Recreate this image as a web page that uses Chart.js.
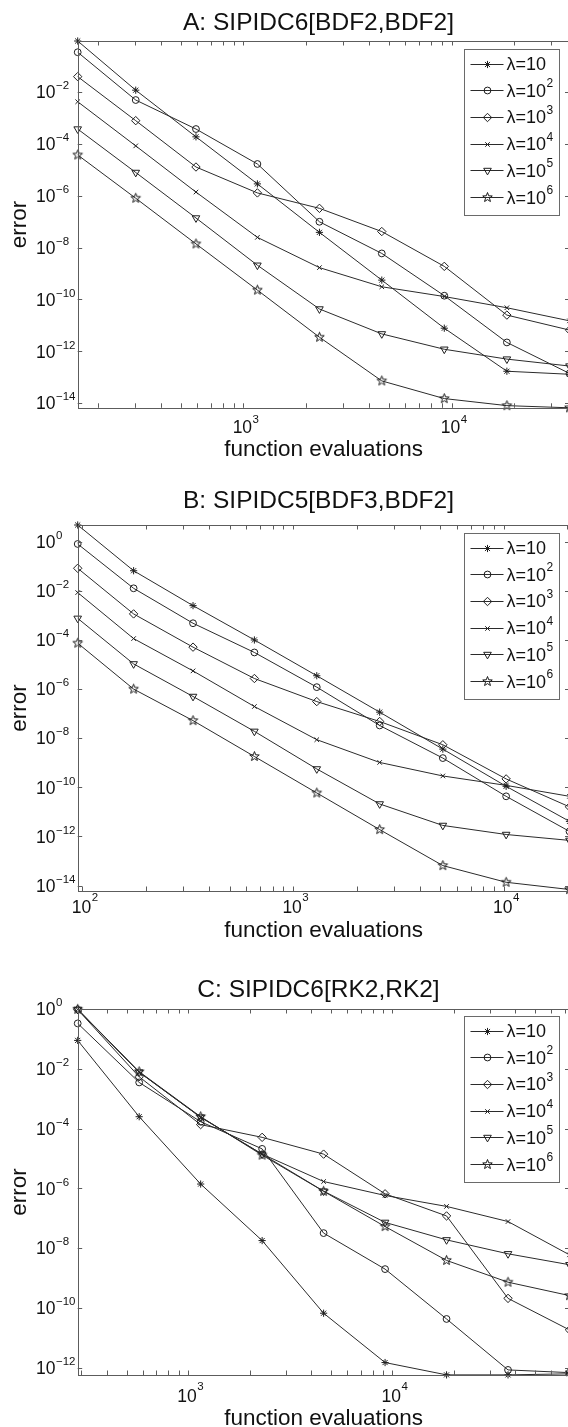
<!DOCTYPE html>
<html>
<head>
<meta charset="utf-8">
<title>SIPIDC error vs function evaluations</title>
<script src="https://cdn.jsdelivr.net/npm/chart.js@4.4.1/dist/chart.umd.min.js"></script>
<style>
html, body { margin: 0; padding: 0; background: #fff; overflow: hidden; }
body { width: 568px; height: 1427px; position: relative; }
.panel { position: absolute; left: 0; }
</style>
</head>
<body>
<div class="panel" style="top:0px"><canvas id="chartA" width="580" height="470"></canvas></div>
<div class="panel" style="top:470px"><canvas id="chartB" width="580" height="470"></canvas></div>
<div class="panel" style="top:940px"><canvas id="chartC" width="580" height="487"></canvas></div>

<script>
// legend names (^ marks the exponent)
var seriesNames = ['λ=10', 'λ=10^2', 'λ=10^3', 'λ=10^4', 'λ=10^5', 'λ=10^6'];

/* A: SIPIDC6[BDF2,BDF2] */
var evalsA = [160, 304, 592, 1168, 2320, 4624, 9232, 18448, 36880];
var errA1 = [0.95, 1.2e-2, 1.9e-4, 2.9e-6, 3.9e-8, 5.6e-10, 7.8e-12, 1.7e-13, 1.3e-13];
var errA2 = [0.35, 5e-3, 3.8e-4, 1.7e-5, 1e-7, 6e-9, 1.4e-10, 2.2e-12, 1.4e-13];
var errA3 = [4e-2, 8e-4, 1.3e-5, 1.3e-6, 3.3e-7, 4.2e-8, 1.9e-9, 2.5e-11, 6.6e-12];
var errA4 = [4.3e-3, 8.5e-5, 1.4e-6, 2.5e-8, 1.7e-9, 3.1e-10, 1.3e-10, 4.8e-11, 1.5e-11];
var errA5 = [3.8e-4, 8e-6, 1.4e-7, 2.1e-9, 4.3e-11, 4.7e-12, 1.2e-12, 5e-13, 2.7e-13];
var errA6 = [3.8e-5, 8.1e-7, 1.4e-8, 2.3e-10, 3.5e-12, 7.2e-14, 1.5e-14, 8e-15, 6.6e-15];

/* B: SIPIDC5[BDF3,BDF2] */
var evalsB = [95, 175, 335, 655, 1295, 2575, 5135, 10255, 20495];
var errB1 = [4.8, 6.6e-2, 2.5e-3, 1e-4, 3.5e-6, 1.15e-7, 3.6e-9, 1.1e-10, 4.1e-12];
var errB2 = [0.81, 1.27e-2, 4.8e-4, 3.1e-5, 1.2e-6, 3.3e-8, 1.55e-9, 4.3e-11, 1.6e-12];
var errB3 = [8.3e-2, 1.15e-3, 5.1e-5, 2.7e-6, 3.1e-7, 4.8e-8, 5.4e-9, 2.2e-10, 1.6e-11];
var errB4 = [8.5e-3, 1.14e-4, 5.5e-6, 1.95e-7, 8.7e-9, 1.03e-9, 2.9e-10, 1.2e-10, 4.3e-11];
var errB5 = [7.6e-4, 1.06e-5, 5e-7, 1.9e-8, 5.6e-10, 2.1e-11, 2.8e-12, 1.2e-12, 6.9e-13];
var errB6 = [7.4e-5, 1.0e-6, 5.2e-8, 1.8e-9, 5.9e-11, 1.9e-12, 6.5e-14, 1.36e-14, 6.9e-15];

/* C: SIPIDC6[RK2,RK2] */
var evalsC = [288, 576, 1152, 2304, 4608, 9216, 18432, 36864, 73728];
var errC1 = [8.9e-2, 2.5e-4, 1.4e-6, 1.8e-8, 6.7e-11, 1.5e-12, 5.8e-13, 5.8e-13, 6.3e-13];
var errC2 = [0.33, 3.5e-3, 1.7e-4, 2.1e-5, 3.2e-8, 2e-9, 4.3e-11, 8.5e-13, 6.9e-13];
var errC3 = [0.95, 5.4e-3, 1.36e-4, 5.1e-5, 1.4e-5, 6.6e-7, 1.2e-7, 2.1e-10, 1.85e-11];
var errC4 = [0.97, 7.7e-3, 2.4e-4, 1.4e-5, 1.7e-6, 5.8e-7, 2.5e-7, 7.8e-8, 6e-9];
var errC5 = [0.97, 7.7e-3, 2.4e-4, 1.4e-5, 8.1e-7, 7.3e-8, 1.9e-8, 6.5e-9, 2.8e-9];
var errC6 = [0.98, 8e-3, 2.5e-4, 1.3e-5, 8e-7, 5.3e-8, 3.9e-9, 7.3e-10, 2.6e-10];

var FONT = '"Liberation Sans", Arial, Helvetica, sans-serif';
var INK = '#111';
var AXIS = '#5c5c5c';

// five point star marker (not built into chart.js)
function pentagram() {
	var c = document.createElement('canvas');
	c.width = 13; c.height = 13;
	var g = c.getContext('2d');
	g.strokeStyle = '#1a1a1a';
	g.lineWidth = 1;
	g.beginPath();
	for (var i = 0; i < 10; i++) {
		var r = (i % 2 === 0) ? 5 : 2.1;
		var a = -Math.PI / 2 + i * Math.PI / 5;
		var px = 6.5 + r * Math.cos(a), py = 6.5 + r * Math.sin(a);
		if (i === 0) g.moveTo(px, py); else g.lineTo(px, py);
	}
	g.closePath();
	g.stroke();
	return c;
}

var markers = [
	{ style: 'star', radius: 3.6, rotation: 0 },
	{ style: 'circle', radius: 3.4, rotation: 0 },
	{ style: 'rectRot', radius: 4.2, rotation: 0 },
	{ style: 'crossRot', radius: 3.2, rotation: 0 },
	{ style: 'triangle', radius: 4.4, rotation: 180 },
	{ style: pentagram(), radius: 5, rotation: 0 }
];

// "10" with a raised exponent
function drawPower(ctx, x, y, base, exp, baseSize, supSize, supRise, centered) {
	ctx.font = baseSize + 'px ' + FONT;
	var bw = ctx.measureText(base).width;
	var x0 = centered ? x - bw / 2 : x;
	ctx.textAlign = 'left';
	ctx.textBaseline = 'alphabetic';
	ctx.fillText(base, x0, y);
	if (exp !== null && exp !== undefined && exp !== '') {
		ctx.font = supSize + 'px ' + FONT;
		ctx.fillText(String(exp).replace('-', '\u2212'), x0 + bw + 0.5, y - supRise);
	}
}

var figurePlugin = {
	id: 'figure',
	afterDraw: function(chart, args, o) {
		var ctx = chart.ctx;
		var a = chart.chartArea;
		var xs = chart.scales.x, ys = chart.scales.y;
		var tl = 4.5;
		ctx.save();

		// axes box
		ctx.strokeStyle = AXIS;
		ctx.lineWidth = 1;
		ctx.strokeRect(Math.round(a.left) + 0.5, Math.round(a.top) + 0.5,
			Math.round(a.right) - Math.round(a.left), Math.round(a.bottom) - Math.round(a.top));

		// x ticks, major + minor, pointing inwards
		ctx.beginPath();
		var d0 = Math.floor(Math.log10(xs.min)), d1 = Math.ceil(Math.log10(xs.max));
		var xMajors = [];
		for (var d = d0; d <= d1; d++) {
			for (var k = 1; k <= 9; k++) {
				var v = k * Math.pow(10, d);
				if (v < xs.min * 0.999 || v > xs.max * 1.001) continue;
				var px = Math.round(xs.getPixelForValue(v)) + 0.5;
				ctx.moveTo(px, a.bottom); ctx.lineTo(px, a.bottom - tl);
				ctx.moveTo(px, a.top); ctx.lineTo(px, a.top + tl);
				if (k === 1) xMajors.push({ px: xs.getPixelForValue(v), e: d });
			}
		}
		// y ticks every second decade
		var e0 = Math.ceil(Math.log10(ys.min) - 1e-9), e1 = Math.floor(Math.log10(ys.max) + 1e-9);
		var yMajors = [];
		for (var e = e0; e <= e1; e++) {
			if (e % 2 !== 0) continue;
			var py = Math.round(ys.getPixelForValue(Math.pow(10, e))) + 0.5;
			ctx.moveTo(a.left, py); ctx.lineTo(a.left + tl, py);
			ctx.moveTo(a.right, py); ctx.lineTo(a.right - tl, py);
			yMajors.push({ py: ys.getPixelForValue(Math.pow(10, e)), e: e });
		}
		ctx.stroke();

		// tick labels
		ctx.fillStyle = INK;
		yMajors.forEach(function(t) {
			drawPower(ctx, 36, t.py + 6.2, '10', t.e, 17.5, 11.5, 9, false);
		});
		xMajors.forEach(function(t) {
			drawPower(ctx, t.px - 1, a.bottom + o.xLabelDrop, '10', t.e, 17.5, 11.5, o.xSupRise, true);
		});

		// title and axis labels
		ctx.textAlign = 'center';
		ctx.textBaseline = 'alphabetic';
		ctx.font = '24.5px ' + FONT;
		ctx.fillText(o.title, 318.5, o.titleY);
		ctx.font = '22.5px ' + FONT;
		ctx.fillText('function evaluations', (a.left + a.right) / 2, a.bottom + o.xTitleDrop);
		ctx.save();
		ctx.translate(26, (a.top + a.bottom) / 2);
		ctx.rotate(-Math.PI / 2);
		ctx.fillText('error', 0, 0);
		ctx.restore();

		// legend box
		var lx = 464.5, ly = a.top + o.legendDrop + 0.5, lw = 95, lh = 166;
		ctx.fillStyle = '#fff';
		ctx.fillRect(lx, ly, lw, lh);
		ctx.strokeStyle = '#6a6a6a';
		ctx.strokeRect(lx, ly, lw, lh);
		chart.data.datasets.forEach(function(ds, i) {
			var cy = ly + 14 + 26.7 * i;
			ctx.strokeStyle = '#2b2b2b';
			ctx.lineWidth = 1;
			ctx.beginPath();
			ctx.moveTo(lx + 6, Math.round(cy) + 0.5);
			ctx.lineTo(lx + 39, Math.round(cy) + 0.5);
			ctx.stroke();
			ctx.strokeStyle = '#1e1e1e';
			ctx.fillStyle = 'rgba(0,0,0,0)';
			if (Chart.helpers && Chart.helpers.drawPoint) {
				Chart.helpers.drawPoint(ctx, {
					pointStyle: ds.pointStyle, radius: ds.pointRadius,
					rotation: ds.pointRotation, borderWidth: 1
				}, lx + 23, Math.round(cy) + 0.5);
			}
			ctx.fillStyle = INK;
			var parts = ds.label.split('^');
			drawPower(ctx, lx + 42, cy + 6.5, parts[0], parts[1], 18, 12, 9.5, false);
		});
		ctx.restore();
	}
};

function makeChart(id, evals, series, yMin, yMax, pad, fig) {
	var datasets = series.map(function(vals, i) {
		return {
			label: seriesNames[i],
			data: vals.map(function(v, j) { return { x: evals[j], y: v }; }),
			borderColor: '#2b2b2b',
			borderWidth: 1,
			tension: 0,
			pointStyle: markers[i].style,
			pointRadius: markers[i].radius,
			pointRotation: markers[i].rotation,
			pointBorderColor: '#1e1e1e',
			pointBorderWidth: 1,
			pointBackgroundColor: 'rgba(0,0,0,0)',
			clip: false
		};
	});
	return new Chart(document.getElementById(id), {
		type: 'line',
		data: { datasets: datasets },
		plugins: [figurePlugin],
		options: {
			responsive: false,
			animation: false,
			devicePixelRatio: 1,
			layout: { padding: pad },
			plugins: {
				legend: { display: false },
				tooltip: { enabled: false },
				figure: fig
			},
			scales: {
				x: { type: 'logarithmic', min: evals[0], max: evals[evals.length - 1], display: false },
				y: { type: 'logarithmic', min: yMin, max: yMax, display: false }
			}
		}
	});
}

makeChart('chartA', evalsA, [errA1, errA2, errA3, errA4, errA5, errA6], 6.6e-15, 0.95,
	{ left: 77.7, right: 10.5, top: 41, bottom: 62.2 },
	{ title: 'A: SIPIDC6[BDF2,BDF2]', titleY: 29.5, xLabelDrop: 25.6, xSupRise: 10.5, xTitleDrop: 48, legendDrop: 8 });

makeChart('chartB', evalsB, [errB1, errB2, errB3, errB4, errB5, errB6], 6.2e-15, 4.8,
	{ left: 77.7, right: 10.5, top: 55, bottom: 49 },
	{ title: 'B: SIPIDC5[BDF3,BDF2]', titleY: 38.3, xLabelDrop: 22, xSupRise: 12, xTitleDrop: 46, legendDrop: 8 });

makeChart('chartC', evalsC, [errC1, errC2, errC3, errC4, errC5, errC6], 5.75e-13, 1,
	{ left: 77.7, right: 10.5, top: 69, bottom: 52 },
	{ title: 'C: SIPIDC6[RK2,RK2]', titleY: 56.7, xLabelDrop: 26.7, xSupRise: 11.7, xTitleDrop: 50, legendDrop: 7 });
</script>
</body>
</html>
